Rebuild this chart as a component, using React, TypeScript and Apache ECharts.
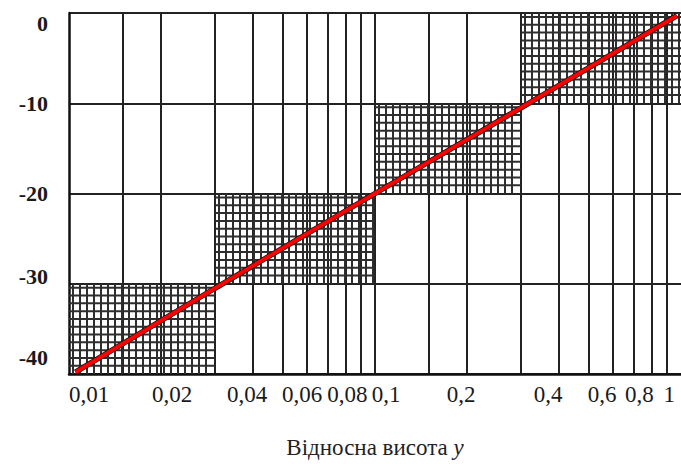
import React, { useEffect, useRef } from "react";
import * as echarts from "echarts";

// ---- data ----
const gridValues = [0.015, 0.02, 0.03, 0.04, 0.05, 0.06, 0.07, 0.08, 0.09, 0.1, 0.15, 0.2, 0.3, 0.4, 0.5, 0.6, 0.7, 0.8, 0.9];
const tickLabels = [0.01, 0.02, 0.04, 0.06, 0.08, 0.1, 0.2, 0.4, 0.6, 0.8, 1];
const yTicks = [0, -10, -20, -30, -40];
// hatched cells: [xFrom, xTo, yFrom, yTo]
const hatchCells = [
  [0.01, 0.03, -40, -30],
  [0.03, 0.1, -30, -20],
  [0.1, 0.3, -20, -10],
  [0.3, 1, -10, 0],
];
const lineX = [0.0105, 0.03, 0.1, 0.3, 0.97];
const lineY = [-39.8, -30.5, -20, -10.5, -0.3];

// ---- style (label nudges, px) ----
const xLabelShift = [0, 11, -6, -5, 2, 11, -6, -11, -11, -12, 6];
const yLabelShift = [10, 0, 0, -7, -17];

const SERIF = "'Liberation Serif', 'DejaVu Serif', serif";

export default function App() {
  const ref = useRef<HTMLDivElement>(null);
  useEffect(() => {
    document.body.style.margin = "0";
    const chart = echarts.init(ref.current!, undefined, { renderer: "svg" });
    const lg = (v: number) => Math.log10(v);

    const xRich: any = {};
    tickLabels.forEach((_, i) => {
      const s = xLabelShift[i];
      let padding: number[];
      if (i === 0) padding = [0, 0, 0, 0];
      else if (i === tickLabels.length - 1) padding = [0, s, 0, 0];
      else padding = s >= 0 ? [0, 0, 0, 2 * s] : [0, -2 * s, 0, 0];
      xRich["x" + i] = { fontFamily: SERIF, fontSize: 23, color: "#1a1a1a", padding };
    });
    const yRich: any = {};
    yTicks.forEach((_, i) => {
      const s = yLabelShift[i];
      const padding = s >= 0 ? [2 * s, 0, 0, 0] : [0, 0, -2 * s, 0];
      yRich["y" + i] = { fontFamily: SERIF, fontSize: 22, fontWeight: "bold", color: "#1a1a1a", padding };
    });

    const option: any = {
      animation: false,
      backgroundColor: "#fff",
      grid: { left: 69, right: 0, top: 13, bottom: 89, containLabel: false },
      xAxis: {
        type: "value",
        min: -2,
        max: 0,
        axisLine: { show: true, onZero: false, lineStyle: { color: "#111", width: 2.5 } },
        axisTick: { show: false, customValues: gridValues.map(lg) },
        splitLine: { show: true, lineStyle: { color: "#222", width: 2 } },
        axisLabel: {
          customValues: tickLabels.map(lg),
          margin: 9,
          alignMinLabel: "left",
          alignMaxLabel: "right",
          hideOverlap: false,
          formatter: (val: number) => {
            let idx = 0;
            let best = Infinity;
            tickLabels.forEach((t, i) => {
              const d = Math.abs(lg(t) - val);
              if (d < best) { best = d; idx = i; }
            });
            const txt = String(tickLabels[idx]).replace(".", ",");
            return `{x${idx}|${txt}}`;
          },
          rich: xRich,
        },
        name: "{a|Відносна висота }{b|y}",
        nameLocation: "middle",
        nameGap: 62,
        nameTextStyle: {
          rich: {
            a: { fontFamily: SERIF, fontSize: 23, color: "#222" },
            b: { fontFamily: SERIF, fontSize: 23, color: "#222", fontStyle: "italic" },
          },
        },
      },
      yAxis: {
        type: "value",
        min: -40,
        max: 0,
        interval: 10,
        axisLine: { show: true, onZero: false, lineStyle: { color: "#111", width: 2.5 } },
        axisTick: { show: false },
        splitLine: { show: true, lineStyle: { color: "#222", width: 2 } },
        axisLabel: {
          margin: 21,
          formatter: (val: number) => {
            const idx = yTicks.indexOf(Math.round(val));
            return `{y${idx}|${val}}`;
          },
          rich: yRich,
        },
      },
      series: [
        {
          type: "custom",
          z: 1,
          silent: true,
          dimensions: ["x0", "x1", "y0", "y1"],
          encode: { x: [0, 1], y: [2, 3] },
          data: hatchCells.map((c) => [lg(c[0]), lg(c[1]), c[2], c[3]]),
          renderItem: (params: any, api: any) => {
            const p0 = api.coord([api.value(0), api.value(2)]);
            const p1 = api.coord([api.value(1), api.value(3)]);
            const left = p0[0], right = p1[0], bottom = p0[1], top = p1[1];
            const children: any[] = [];
            const st = { stroke: "#2e2e2e", lineWidth: 2 };
            for (let x = left + 4; x < right - 2; x += 7) {
              children.push({ type: "line", shape: { x1: x, y1: top, x2: x, y2: bottom }, style: st });
            }
            for (let y = top + 4; y < bottom - 2; y += 7.8) {
              children.push({ type: "line", shape: { x1: left, y1: y, x2: right, y2: y }, style: st });
            }
            return { type: "group", children };
          },
        },
        {
          type: "line",
          z: 3,
          silent: true,
          showSymbol: false,
          data: lineX.map((x, i) => [lg(x), lineY[i]]),
          lineStyle: { color: "#111", width: 5.5 },
        },
        {
          type: "line",
          z: 4,
          silent: true,
          showSymbol: false,
          data: lineX.map((x, i) => [lg(x), lineY[i]]),
          lineStyle: { color: "#ff0000", width: 4 },
        },
      ],
    };
    chart.setOption(option);
    return () => chart.dispose();
  }, []);
  return <div ref={ref} style={{ position: "absolute", left: 0, top: 0, width: 681, height: 464 }} />;
}
